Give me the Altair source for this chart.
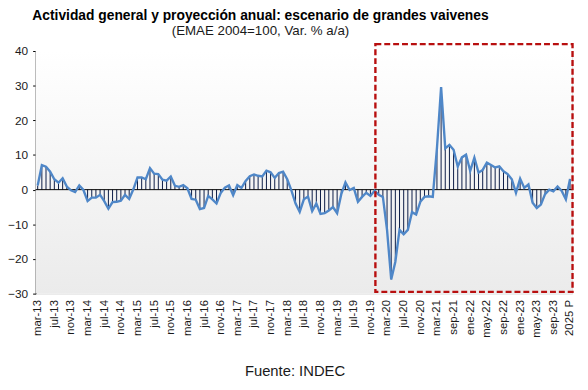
import altair as alt
import pandas as pd

# ---- data ----
VAR_PCT = [
    1.2, 7.1, 6.6, 5.2, 3.0, 2.0, 3.3, 0.9, -0.2, -0.7,
    1.2, -0.1, -3.3, -2.3, -2.3, -1.5, -3.3, -5.5, -3.6, -3.5,
    -3.2, -1.5, -2.7, 0.1, 3.5, 3.5, 3.0, 6.2, 4.6, 4.5,
    2.9, 2.6, 3.8, 1.1, 0.8, 1.3, 0.4, -2.7, -2.9, -5.6,
    -5.3, -1.8, -2.8, -4.0, -1.0, 0.6, 1.2, -1.6, 1.3, 0.5,
    2.5, 3.9, 4.4, 4.0, 3.8, 5.5, 5.0, 3.4, 4.8, 5.2,
    3.0, -0.2, -4.0, -6.4, -2.8, -2.0, -6.2, -4.0, -7.0, -6.8,
    -6.0, -5.0, -6.8, -1.3, 2.1, -0.1, 0.5, -3.5, -2.1, -0.9,
    -1.8, -0.3, -1.5, -2.1, -11.6, -25.9, -20.8, -11.6, -12.9, -11.6,
    -6.5, -7.2, -3.5, -2.1, -1.9, -2.1, 12.0, 29.6, 11.9, 12.9,
    11.5, 6.7, 9.3, 10.1, 5.4, 9.2, 4.9, 5.7, 7.8, 7.1,
    6.4, 6.7, 5.3, 4.5, 3.0, -0.9, 3.2, 0.5, 1.5, -3.8,
    -5.3, -4.3, -1.3, 0.0, -0.5, 0.9, -0.4, -2.8, 3.1,
]
X_LABELS = [
    "mar-13", "jul-13", "nov-13", "mar-14", "jul-14", "nov-14",
    "mar-15", "jul-15", "nov-15", "mar-16", "jul-16", "nov-16",
    "mar-17", "jul-17", "nov-17", "mar-18", "jul-18", "nov-18",
    "mar-19", "jul-19", "nov-19", "mar-20", "jul-20", "nov-20",
    "mar-21", "sep-21", "ene-22", "may-22", "sep-22", "ene-23",
    "may-23", "sep-23", "2025 P",
]
LABEL_STEP = 4
Y_TICKS = [-30, -20, -10, 0, 10, 20, 30, 40]
# highlighted region (category index span, value span)
BOX = {"bx": [81.2], "bx2": [128.6], "by": [42.0], "by2": [-29.5]}

TITLE = "Actividad general y proyección anual: escenario de grandes vaivenes"
SUBTITLE = "(EMAE 2004=100, Var. % a/a)"
SOURCE = "Fuente: INDEC"

# ---- build ----
df = pd.DataFrame({"idx": list(range(len(VAR_PCT))), "value": VAR_PCT})
W, H = 544, 246
FONT = "Liberation Sans"

label_js = "[" + ",".join("'%s'" % s for s in X_LABELS) + "][round(datum.value/%d)]" % LABEL_STEP

xscale = alt.Scale(domain=[-0.5, len(VAR_PCT) - 0.5], nice=False, zero=False)
yscale = alt.Scale(domain=[-30, 40], nice=False, zero=False)

x_axis = alt.Axis(
    values=list(range(0, len(VAR_PCT), LABEL_STEP)), labelExpr=label_js,
    labelAngle=270, labelAlign="right", labelBaseline="middle",
    domain=False, ticks=False, grid=False, labelPadding=6,
    labelFontSize=11.5, labelColor="#1a1a1a", labelFont=FONT, title=None,
    labelOverlap=False,
)
y_axis = alt.Axis(
    values=Y_TICKS, domain=True, domainColor="black", domainWidth=1,
    ticks=True, tickSize=3, tickColor="black", grid=False,
    labelFontSize=12, labelColor="#1a1a1a", labelFont=FONT, labelPadding=5,
    title=None,
)
x_enc = alt.X("idx:Q", scale=xscale, axis=x_axis)
y_enc = alt.Y("value:Q", scale=yscale, axis=y_axis)

grad = alt.LinearGradient(
    gradient="linear",
    stops=[alt.GradientStop(color="#ffffff", offset=0),
           alt.GradientStop(color="#ebebeb", offset=1)],
    x1=0, x2=0, y1=0, y2=1,
)
bg = alt.Chart(pd.DataFrame({"a": [0]})).mark_rect(color=grad).encode(
    x=alt.value(0), x2=alt.value(W), y=alt.value(0), y2=alt.value(H)
)

bars = alt.Chart(df).mark_rule(color="#0a1a45", strokeWidth=1).encode(
    x=x_enc, y=y_enc, y2=alt.datum(0)
)
zero = alt.Chart(pd.DataFrame({"z": [0]})).mark_rule(color="black", strokeWidth=1).encode(
    y=alt.Y("z:Q", scale=yscale, axis=y_axis)
)
line = alt.Chart(df).mark_line(color="#4f87c8", strokeWidth=2.4).encode(
    x=x_enc, y=y_enc
)
box = alt.Chart(pd.DataFrame(BOX)).mark_rect(
    fillOpacity=0, stroke="#b80f0f", strokeWidth=2.4, strokeDash=[6, 3]
).encode(
    x=alt.X("bx:Q", scale=xscale, axis=x_axis), x2="bx2",
    y=alt.Y("by:Q", scale=yscale, axis=y_axis), y2="by2",
)
src = alt.Chart(pd.DataFrame({"t": [SOURCE]})).mark_text(
    fontSize=15, font=FONT, color="#1a1a1a", align="center", baseline="alphabetic"
).encode(text="t:N", x=alt.value(263), y=alt.value(330))

chart = alt.layer(bg, bars, zero, line, box, src).properties(
    width=W, height=H,
    title=alt.TitleParams(
        text=TITLE, subtitle=SUBTITLE, font=FONT, subtitleFont=FONT,
        fontSize=14, subtitleFontSize=13.5, fontWeight="bold",
        color="black", subtitleColor="#1a1a1a", anchor="middle", dx=-44,
        offset=6, subtitlePadding=1,
    ),
    padding={"left": 28, "top": 41, "right": 8, "bottom": 87},
    autosize=alt.AutoSizeParams(type="none"),
).configure_view(stroke=None).configure(font=FONT)

chart.save("out.html", embed_options={"renderer": "svg", "actions": False})
